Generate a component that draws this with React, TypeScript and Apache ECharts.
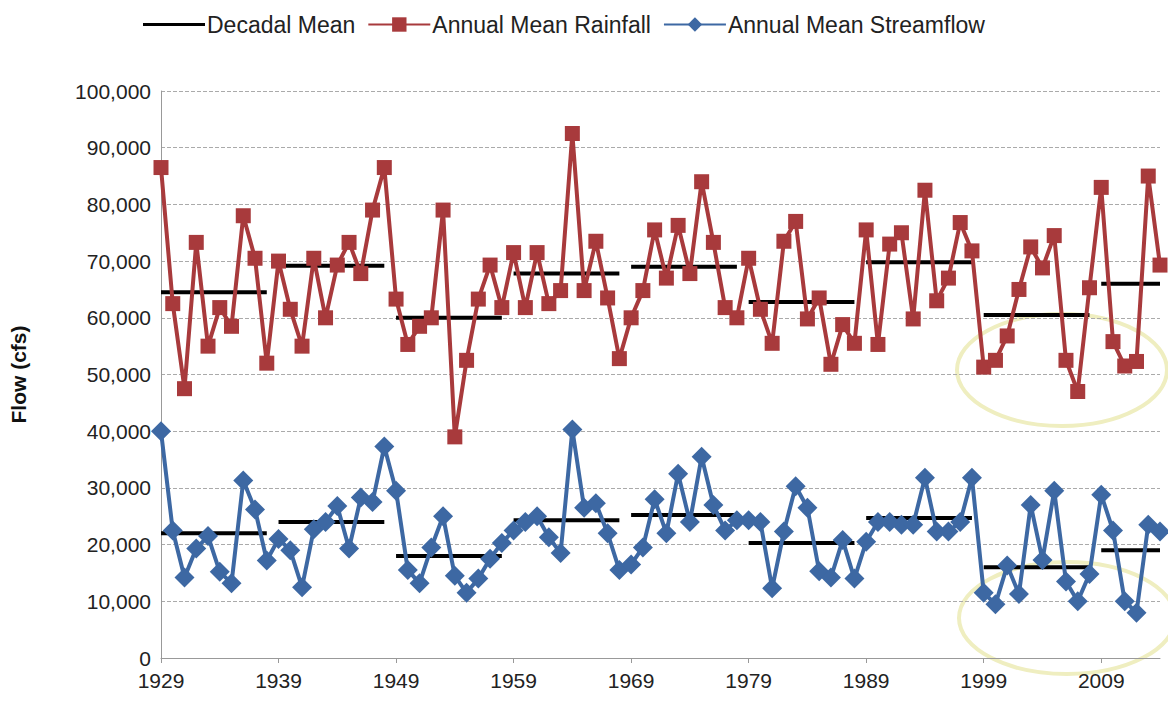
import React, { useEffect, useRef } from "react";
import * as echarts from "echarts";

const years: string[] = [];
for (let y = 1929; y <= 2014; y++) years.push(String(y));

const rainfall = [
  86.5, 62.5, 47.5, 73.3, 55, 61.8, 58.5, 78, 70.5, 52,
  70, 61.5, 55, 70.5, 60, 69.3, 73.3, 67.8, 79, 86.5,
  63.3, 55.3, 58.5, 60, 79, 39, 52.5, 63.3, 69.3, 61.8,
  71.5, 61.8, 71.5, 62.5, 64.8, 92.5, 64.8, 73.5, 63.5, 52.8,
  60, 64.8, 75.5, 67, 76.3, 67.8, 84, 73.3, 61.8, 60,
  70.5, 61.5, 55.5, 73.5, 77, 59.8, 63.5, 51.8, 58.8, 55.5,
  75.5, 55.3, 73, 75, 59.8, 82.5, 63, 67, 76.8, 71.8,
  51.3, 52.5, 56.8, 65, 72.5, 68.8, 74.5, 52.5, 47, 65.3,
  83, 55.8, 51.5, 52.3, 85, 69.3,
].map((v) => v * 1000);

const streamflow = [
  40, 22.5, 14.2, 19.3, 21.5, 15.2, 13.2, 31.3, 26.2, 17.2,
  21, 19, 12.5, 22.7, 24, 26.8, 19.3, 28.3, 27.5, 37.3,
  29.5, 15.5, 13.2, 19.5, 25, 14.5, 11.5, 14, 17.5, 20.3,
  22.5, 24, 25, 21.3, 18.5, 40.3, 26.5, 27.3, 22, 15.5,
  16.5, 19.5, 28, 22, 32.5, 24, 35.5, 27, 22.5, 24.3,
  24.3, 24, 12.3, 22.3, 30.3, 26.5, 15.3, 14.2, 20.8, 14,
  20.5, 24, 24, 23.5, 23.5, 31.8, 22.3, 22.3, 24, 31.8,
  11.5, 9.5, 16.3, 11.3, 27, 17.3, 29.5, 13.5, 10, 14.8,
  28.8, 22.5, 10, 8, 23.5, 22.3,
].map((v) => v * 1000);

// decade start index, end index
const decadeStart = [0, 10, 20, 30, 40, 50, 60, 70, 80];
const decadeEnd = [9, 19, 29, 39, 49, 59, 69, 79, 85];
const rainMeans = [64.5, 69.2, 60, 67.8, 69, 62.8, 69.8, 60.5, 66].map((v) => v * 1000);
const flowMeans = [22, 24, 18, 24.3, 25.2, 20.3, 24.7, 16, 19].map((v) => v * 1000);

const RED = "#a83a3c";
const BLUE = "#3d68a3";

function decadeSeries(means: number[]) {
  return means.map((m, i) => ({
    name: "Decadal Mean",
    type: "line",
    symbol: "none",
    lineStyle: { color: "#000", width: 4 },
    itemStyle: { color: "#000" },
    z: 1,
    data: years.map((_, k) => (k >= decadeStart[i] && k <= decadeEnd[i] ? m : null)),
  }));
}

export default function App() {
  const ref = useRef<HTMLDivElement>(null);

  useEffect(() => {
    const chart = echarts.init(ref.current, null, { renderer: "svg" });
    chart.setOption({
      animation: false,
      textStyle: { fontFamily: "Arial, Liberation Sans, sans-serif" },
      legend: {
        top: 8,
        left: 138,
        itemGap: 12,
        itemWidth: 62,
        itemHeight: 18,
        textStyle: { fontSize: 23, color: "#222", padding: [0, 0, 0, -3] },
        data: [
          { name: "Decadal Mean", icon: "path://M0,7.5 L60,7.5 L60,10.5 L0,10.5 Z" },
          { name: "Annual Mean Rainfall" },
          { name: "Annual Mean Streamflow" },
        ],
      },
      grid: { left: 160, right: 16, top: 91, bottom: 48 },
      xAxis: {
        type: "category",
        data: years,
        boundaryGap: false,
        axisLine: { lineStyle: { color: "#999" } },
        axisTick: { interval: 9, lineStyle: { color: "#999" } },
        axisLabel: { interval: 9, fontSize: 21, color: "#222", margin: 12 },
      },
      yAxis: {
        type: "value",
        min: 0,
        max: 100000,
        interval: 10000,
        name: "Flow (cfs)",
        nameLocation: "middle",
        nameGap: 132,
        nameTextStyle: { fontSize: 21, fontWeight: "bold", color: "#111" },
        axisLine: { show: true, lineStyle: { color: "#999" } },
        axisTick: { show: false },
        axisLabel: {
          fontSize: 21,
          color: "#222",
          margin: 10,
          formatter: (v: number) => v.toLocaleString("en-US"),
        },
        splitLine: { lineStyle: { type: "dashed", color: "#aaa" } },
      },
      series: [
        ...decadeSeries(rainMeans),
        ...decadeSeries(flowMeans),
        {
          name: "Annual Mean Rainfall",
          type: "line",
          data: rainfall,
          showAllSymbol: true,
          symbol: "rect",
          symbolSize: 15,
          lineStyle: { color: RED, width: 4 },
          itemStyle: { color: RED },
          z: 3,
        },
        {
          name: "Annual Mean Streamflow",
          type: "line",
          data: streamflow,
          showAllSymbol: true,
          symbol: "diamond",
          symbolSize: 20,
          lineStyle: { color: BLUE, width: 4 },
          itemStyle: { color: BLUE },
          z: 3,
        },
      ],
      graphic: [
        {
          type: "ellipse",
          shape: { cx: 1062, cy: 370, rx: 105, ry: 56 },
          style: { fill: "none", stroke: "#efeec0", lineWidth: 4 },
          z: 0,
        },
        {
          type: "ellipse",
          shape: { cx: 1067, cy: 618, rx: 108, ry: 56 },
          style: { fill: "none", stroke: "#efeec0", lineWidth: 4 },
          z: 0,
        },
      ],
    });
    return () => chart.dispose();
  }, []);

  return <div ref={ref} style={{ width: 1176, height: 706, margin: -8 }} />;
}
